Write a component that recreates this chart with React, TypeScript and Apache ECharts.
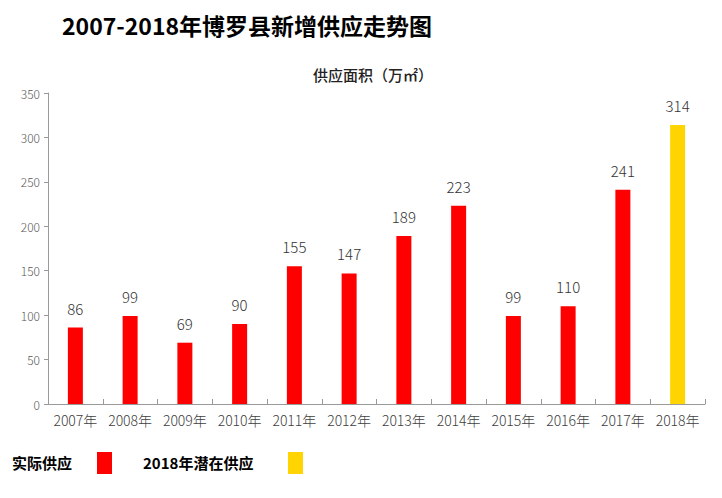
import React, { useEffect, useRef } from "react";
import * as echarts from "echarts";

const categories = ["2007年", "2008年", "2009年", "2010年", "2011年", "2012年", "2013年", "2014年", "2015年", "2016年", "2017年", "2018年"];
const actualSupply = [86, 99, 69, 90, 155, 147, 189, 223, 99, 110, 241, null];
const potentialSupply = [null, null, null, null, null, null, null, null, null, null, null, 314];
const yTicks = [0, 50, 100, 150, 200, 250, 300, 350];

const FONT = "'Noto Sans CJK SC', 'Noto Sans', sans-serif";

export default function App() {
  const ref = useRef<HTMLDivElement>(null);
  useEffect(() => {
    if (!ref.current) return;
    const chart = echarts.init(ref.current, undefined, { renderer: "svg" });
    chart.setOption({
      animation: false,
      backgroundColor: "#ffffff",
      title: [
        {
          text: "2007-2018年博罗县新增供应走势图",
          left: 57,
          top: 8,
          textStyle: { fontFamily: FONT, fontSize: 23, fontWeight: "bold", color: "#000" },
        },
        {
          text: "供应面积（万㎡）",
          left: 308,
          top: 62,
          textStyle: { fontFamily: FONT, fontSize: 15, fontWeight: 500, color: "#222" },
        },
      ],
      grid: { left: 48, right: 17, top: 93, bottom: 94 },
      xAxis: {
        type: "category",
        data: categories,
        axisLine: { lineStyle: { color: "#999", width: 1 } },
        axisTick: { show: true, alignWithLabel: false, length: 5, inside: true, lineStyle: { color: "#999" } },
        axisLabel: { fontFamily: FONT, fontSize: 14, fontWeight: 300, color: "#404040", margin: 9, interval: 0 },
      },
      yAxis: {
        type: "value",
        min: yTicks[0],
        max: yTicks[yTicks.length - 1],
        interval: 50,
        axisLine: { show: true, lineStyle: { color: "#999", width: 1 } },
        axisTick: { show: true, length: 4, lineStyle: { color: "#999" } },
        splitLine: { show: false },
        axisLabel: { fontFamily: FONT, fontSize: 12, fontWeight: 300, color: "#595959", margin: 8 },
      },
      series: [
        {
          name: "实际供应",
          type: "bar",
          data: actualSupply,
          barWidth: 15,
          barGap: "-100%",
          itemStyle: { color: "#FF0000" },
          label: { show: true, position: "top", distance: 12, fontFamily: FONT, fontSize: 15, fontWeight: 300, color: "#333" },
        },
        {
          name: "2018年潜在供应",
          type: "bar",
          data: potentialSupply,
          barWidth: 15,
          itemStyle: { color: "#FFD400" },
          label: { show: true, position: "top", distance: 12, fontFamily: FONT, fontSize: 15, fontWeight: 300, color: "#333" },
        },
      ],
      graphic: [
        { type: "text", left: 12, top: 455, style: { text: "实际供应", font: `bold 15px ${FONT}`, fill: "#000" } },
        { type: "rect", left: 97, top: 452, shape: { width: 15, height: 22 }, style: { fill: "#FF0000" } },
        { type: "text", left: 143, top: 455, style: { text: "2018年潜在供应", font: `bold 15px ${FONT}`, fill: "#000" } },
        { type: "rect", left: 288, top: 452, shape: { width: 15, height: 22 }, style: { fill: "#FFD400" } },
      ],
    });
    return () => chart.dispose();
  }, []);
  return <div ref={ref} style={{ width: 722, height: 498, position: "absolute", left: 0, top: 0 }} />;
}
